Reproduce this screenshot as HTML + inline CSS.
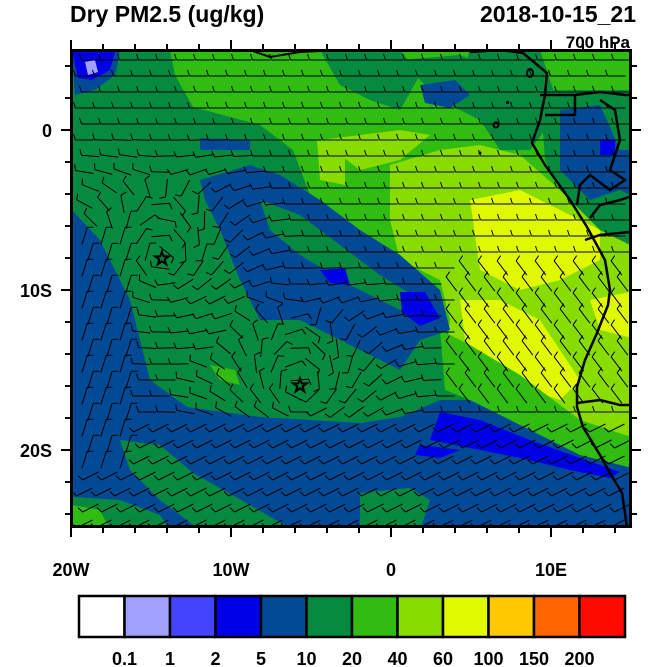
<!DOCTYPE html>
<html><head><meta charset="utf-8"><style>
html,body{margin:0;padding:0;background:#fff;}
svg{display:block;font-family:"Liberation Sans",sans-serif;}
</style></head><body>
<svg id="s" width="650" height="667" viewBox="0 0 650 667" xmlns="http://www.w3.org/2000/svg">
<defs><clipPath id="c"><rect x="72" y="52" width="558" height="474"/></clipPath></defs>
<g clip-path="url(#c)">
<rect x="70" y="50" width="562" height="480" fill="#068a40"/>
<polygon fill="#30bc10" points="170,50 640,50 640,300 600,300 560,310 520,330 470,340 440,330 400,280 360,250 330,225 310,195 293,150 260,125 193,107 175,75"/>
<polygon fill="#068a40" points="320,50 400,50 420,75 400,110 370,100 340,85"/>
<polygon fill="#068a40" points="400,60 460,55 500,70 510,110 480,120 440,100"/>
<polygon fill="#068a40" points="470,50 540,50 560,110 530,150 500,150 480,120 460,80"/>
<polygon fill="#068a40" points="540,90 640,90 640,290 600,270 570,210 545,160"/>
<polygon fill="#034a96" points="560,110 600,105 620,150 640,150 640,200 620,190 590,200 560,170"/>
<polygon fill="#034a96" points="420,85 455,80 470,95 450,108 425,103"/>
<polygon fill="#0000e8" points="600,140 615,140 615,155 600,155"/>
<polygon fill="#88dc00" points="317,140 345,150 345,185 320,180"/>
<polygon fill="#88dc00" points="390,165 440,150 480,145 520,155 560,190 600,230 640,250 640,470 610,460 570,440 520,420 470,390 445,360 450,320 440,280 400,260 390,220"/>
<polygon fill="#88dc00" points="320,140 400,130 430,135 400,160 360,170"/>
<polygon fill="#e0f800" points="470,200 520,190 560,210 600,230 600,260 560,280 520,290 480,270"/>
<polygon fill="#e0f800" points="460,300 500,300 540,320 560,350 580,380 560,400 530,390 490,370 465,340"/>
<polygon fill="#e0f800" points="590,300 640,290 640,340 600,330"/>
<polygon fill="#e0f800" points="560,430 600,440 640,450 640,462 600,458 560,448"/>
<polygon fill="#30bc10" points="440,330 470,345 520,375 580,420 640,440 640,470 580,455 520,425 470,400 445,390"/>
<polygon fill="#034a96" points="72,52 120,52 115,75 95,90 75,95"/>
<polygon fill="#0000e8" points="72,52 115,52 110,70 92,80 78,78"/>
<polygon fill="#a0a0ff" points="85,62 95,60 98,72 88,75"/>
<polygon fill="#034a96" points="200,180 250,165 280,175 320,200 360,230 400,255 440,290 450,330 420,340 400,370 360,350 300,320 260,320 240,280 220,230 205,200"/>
<polygon fill="#034a96" points="200,138 250,140 250,150 200,150"/>
<polygon fill="#068a40" points="260,200 300,215 340,245 380,275 420,300 400,310 350,285 300,255 270,230"/>
<polygon fill="#0000e8" points="320,270 345,268 350,285 330,283"/>
<polygon fill="#0000e8" points="400,292 425,292 440,318 420,326 402,312"/>
<polygon fill="#034a96" points="72,210 100,240 130,300 150,380 187,407 260,417 360,423 400,417 440,400 470,400 520,425 580,455 640,470 640,530 72,530"/>
<polygon fill="#0000e8" points="440,412 480,420 530,440 580,458 620,472 610,478 570,470 520,458 470,448 430,440"/>
<polygon fill="#0000e8" points="420,445 460,450 440,458 415,455"/>
<polygon fill="#068a40" points="120,440 160,445 193,473 250,505 293,530 200,530 160,500 130,470"/>
<polygon fill="#068a40" points="72,497 120,500 160,515 170,530 72,530"/>
<polygon fill="#30bc10" points="72,505 100,510 110,530 72,530"/>
<polygon fill="#068a40" points="360,493 410,488 430,500 420,530 360,530"/>
<polygon fill="#30bc10" points="210,365 235,370 240,385 220,380"/>
<g id="barbs" stroke="#000" stroke-width="1" fill="none"></g>
<polyline fill="none" stroke="#000" stroke-width="2.5" points="470,52 500,50 523,53 547,73 545,95 540,120 532,143 545,165 570,200 587,227 605,260 610,290 608,305 597,333 585,360 577,387 577,407 583,427 600,455 610,473 622,493 627,527"/>
<polyline fill="none" stroke="#000" stroke-width="2.5" points="540,95 575,95 575,115 545,115"/>
<polyline fill="none" stroke="#000" stroke-width="2.5" points="575,95 600,92 625,95 635,95"/>
<polyline fill="none" stroke="#000" stroke-width="2.5" points="600,100 615,110 620,140 610,170 625,180 610,190 590,175 580,185 577,205"/>
<polyline fill="none" stroke="#000" stroke-width="2.5" points="590,218 600,205 620,200 635,195"/>
<polyline fill="none" stroke="#000" stroke-width="2.5" points="585,240 600,235 630,232"/>
<polyline fill="none" stroke="#000" stroke-width="2.5" points="577,403 600,400 620,405 635,405"/>
<polyline fill="none" stroke="#000" stroke-width="2" points="250,50 270,57 300,52 340,50"/>
<ellipse cx="530" cy="73" rx="3" ry="4" fill="none" stroke="#000" stroke-width="2"/>
<circle cx="496" cy="125" r="2.5" fill="none" stroke="#000" stroke-width="2"/>
<rect x="506" y="101" width="3" height="3" fill="#000"/>
<circle cx="480" cy="153" r="1.5" fill="#000"/>
</g>
<text x="162" y="265" font-size="20" text-anchor="middle" fill="none" stroke="#000" stroke-width="1.5">☆</text>
<text x="300" y="392" font-size="20" text-anchor="middle" fill="none" stroke="#000" stroke-width="1.5">☆</text>
<rect x="71.5" y="50.5" width="559" height="476" fill="none" stroke="#000" stroke-width="3"/>
<g id="ticks" stroke="#000" stroke-width="2"></g>
<g font-size="18" fill="#000" font-weight="bold">
<text x="70" y="22" font-size="23">Dry PM2.5 (ug/kg)</text>
<text x="636" y="22" font-size="23" text-anchor="end">2018-10-15_21</text>
<text x="630" y="48" font-size="17" text-anchor="end">700 hPa</text>
<text x="52" y="137" text-anchor="end">0</text>
<text x="52" y="297" text-anchor="end">10S</text>
<text x="52" y="457" text-anchor="end">20S</text>
<text x="71" y="576" text-anchor="middle">20W</text>
<text x="231" y="576" text-anchor="middle">10W</text>
<text x="391" y="576" text-anchor="middle">0</text>
<text x="551" y="576" text-anchor="middle">10E</text>
</g>
<g id="cb" font-weight="bold"></g>
</svg>
<script>
var NS="http://www.w3.org/2000/svg";
function el(p,t,a){var e=document.createElementNS(NS,t);for(var k in a)e.setAttribute(k,a[k]);p.appendChild(e);return e;}
var tk=document.getElementById("ticks");
for(var lon=-20;lon<=15;lon+=2){var x=391+16*lon;var L=(lon%10==0)?10:6;
el(tk,"line",{x1:x,y1:50,x2:x,y2:50-L});el(tk,"line",{x1:x,y1:527,x2:x,y2:527+L});}
for(var lat=4;lat>=-24;lat-=2){var y=130-16*lat;var L=(lat%10==0)?10:6;
el(tk,"line",{x1:71,y1:y,x2:71-L,y2:y});el(tk,"line",{x1:631,y1:y,x2:631+L,y2:y});}
var bg=document.getElementById("barbs");
var stars=[[162,258],[300,385]];
for(var y=60;y<527;y+=16){for(var x=80;x<631;x+=19){
 var xx=x+((y/16)%2)*6;
 var ang=Math.PI;
 var best=null,dm=1e9;
 for(var i=0;i<2;i++){var dx=xx-stars[i][0],dy=y-stars[i][1];var d=Math.sqrt(dx*dx+dy*dy);if(d<dm){dm=d;best=[dx,dy];}}
 var w=Math.max(0,1-dm/140);
 var ca=Math.atan2(best[1],best[0])+Math.PI/2;
 var ax=Math.cos(ang)*(1-w)+Math.cos(ca)*w, ay=Math.sin(ang)*(1-w)+Math.sin(ca)*w;
 if(y>420){ax=-1;ay=0.5;}
 if(xx<140&&y>220&&y<470){ax=0.3;ay=-1;}
 if(xx>450&&y>260&&y<400){ax=-0.6;ay=-0.8;}
 var n=Math.sqrt(ax*ax+ay*ay)||1;ax/=n;ay/=n;
 var L=9;
 var x1=xx-ax*L,y1=y-ay*L,x2=xx+ax*L,y2=y+ay*L;
 el(bg,"line",{x1:x1.toFixed(1),y1:y1.toFixed(1),x2:x2.toFixed(1),y2:y2.toFixed(1)});
 el(bg,"line",{x1:x2.toFixed(1),y1:y2.toFixed(1),x2:(x2-ay*6+ax*2).toFixed(1),y2:(y2+ax*6+ay*2).toFixed(1)});
}}
var cb=document.getElementById("cb");
var cols=["#ffffff","#a0a0ff","#4444ff","#0000e8","#034a96","#068a40","#30bc10","#88dc00","#e0f800","#ffc800","#ff6600","#ff0a00"];
var x0=79,w=(625-79)/12;
for(var i=0;i<12;i++){el(cb,"rect",{x:(x0+i*w).toFixed(1),y:596,width:w.toFixed(1),height:41,fill:cols[i],stroke:"#000","stroke-width":2.5});}
var labs=["0.1","1","2","5","10","20","40","60","100","150","200"];
for(var i=0;i<11;i++){var t=el(cb,"text",{x:(x0+(i+1)*w).toFixed(1),y:665,"font-size":"18","text-anchor":"middle"});t.textContent=labs[i];}
</script>
</body></html>
